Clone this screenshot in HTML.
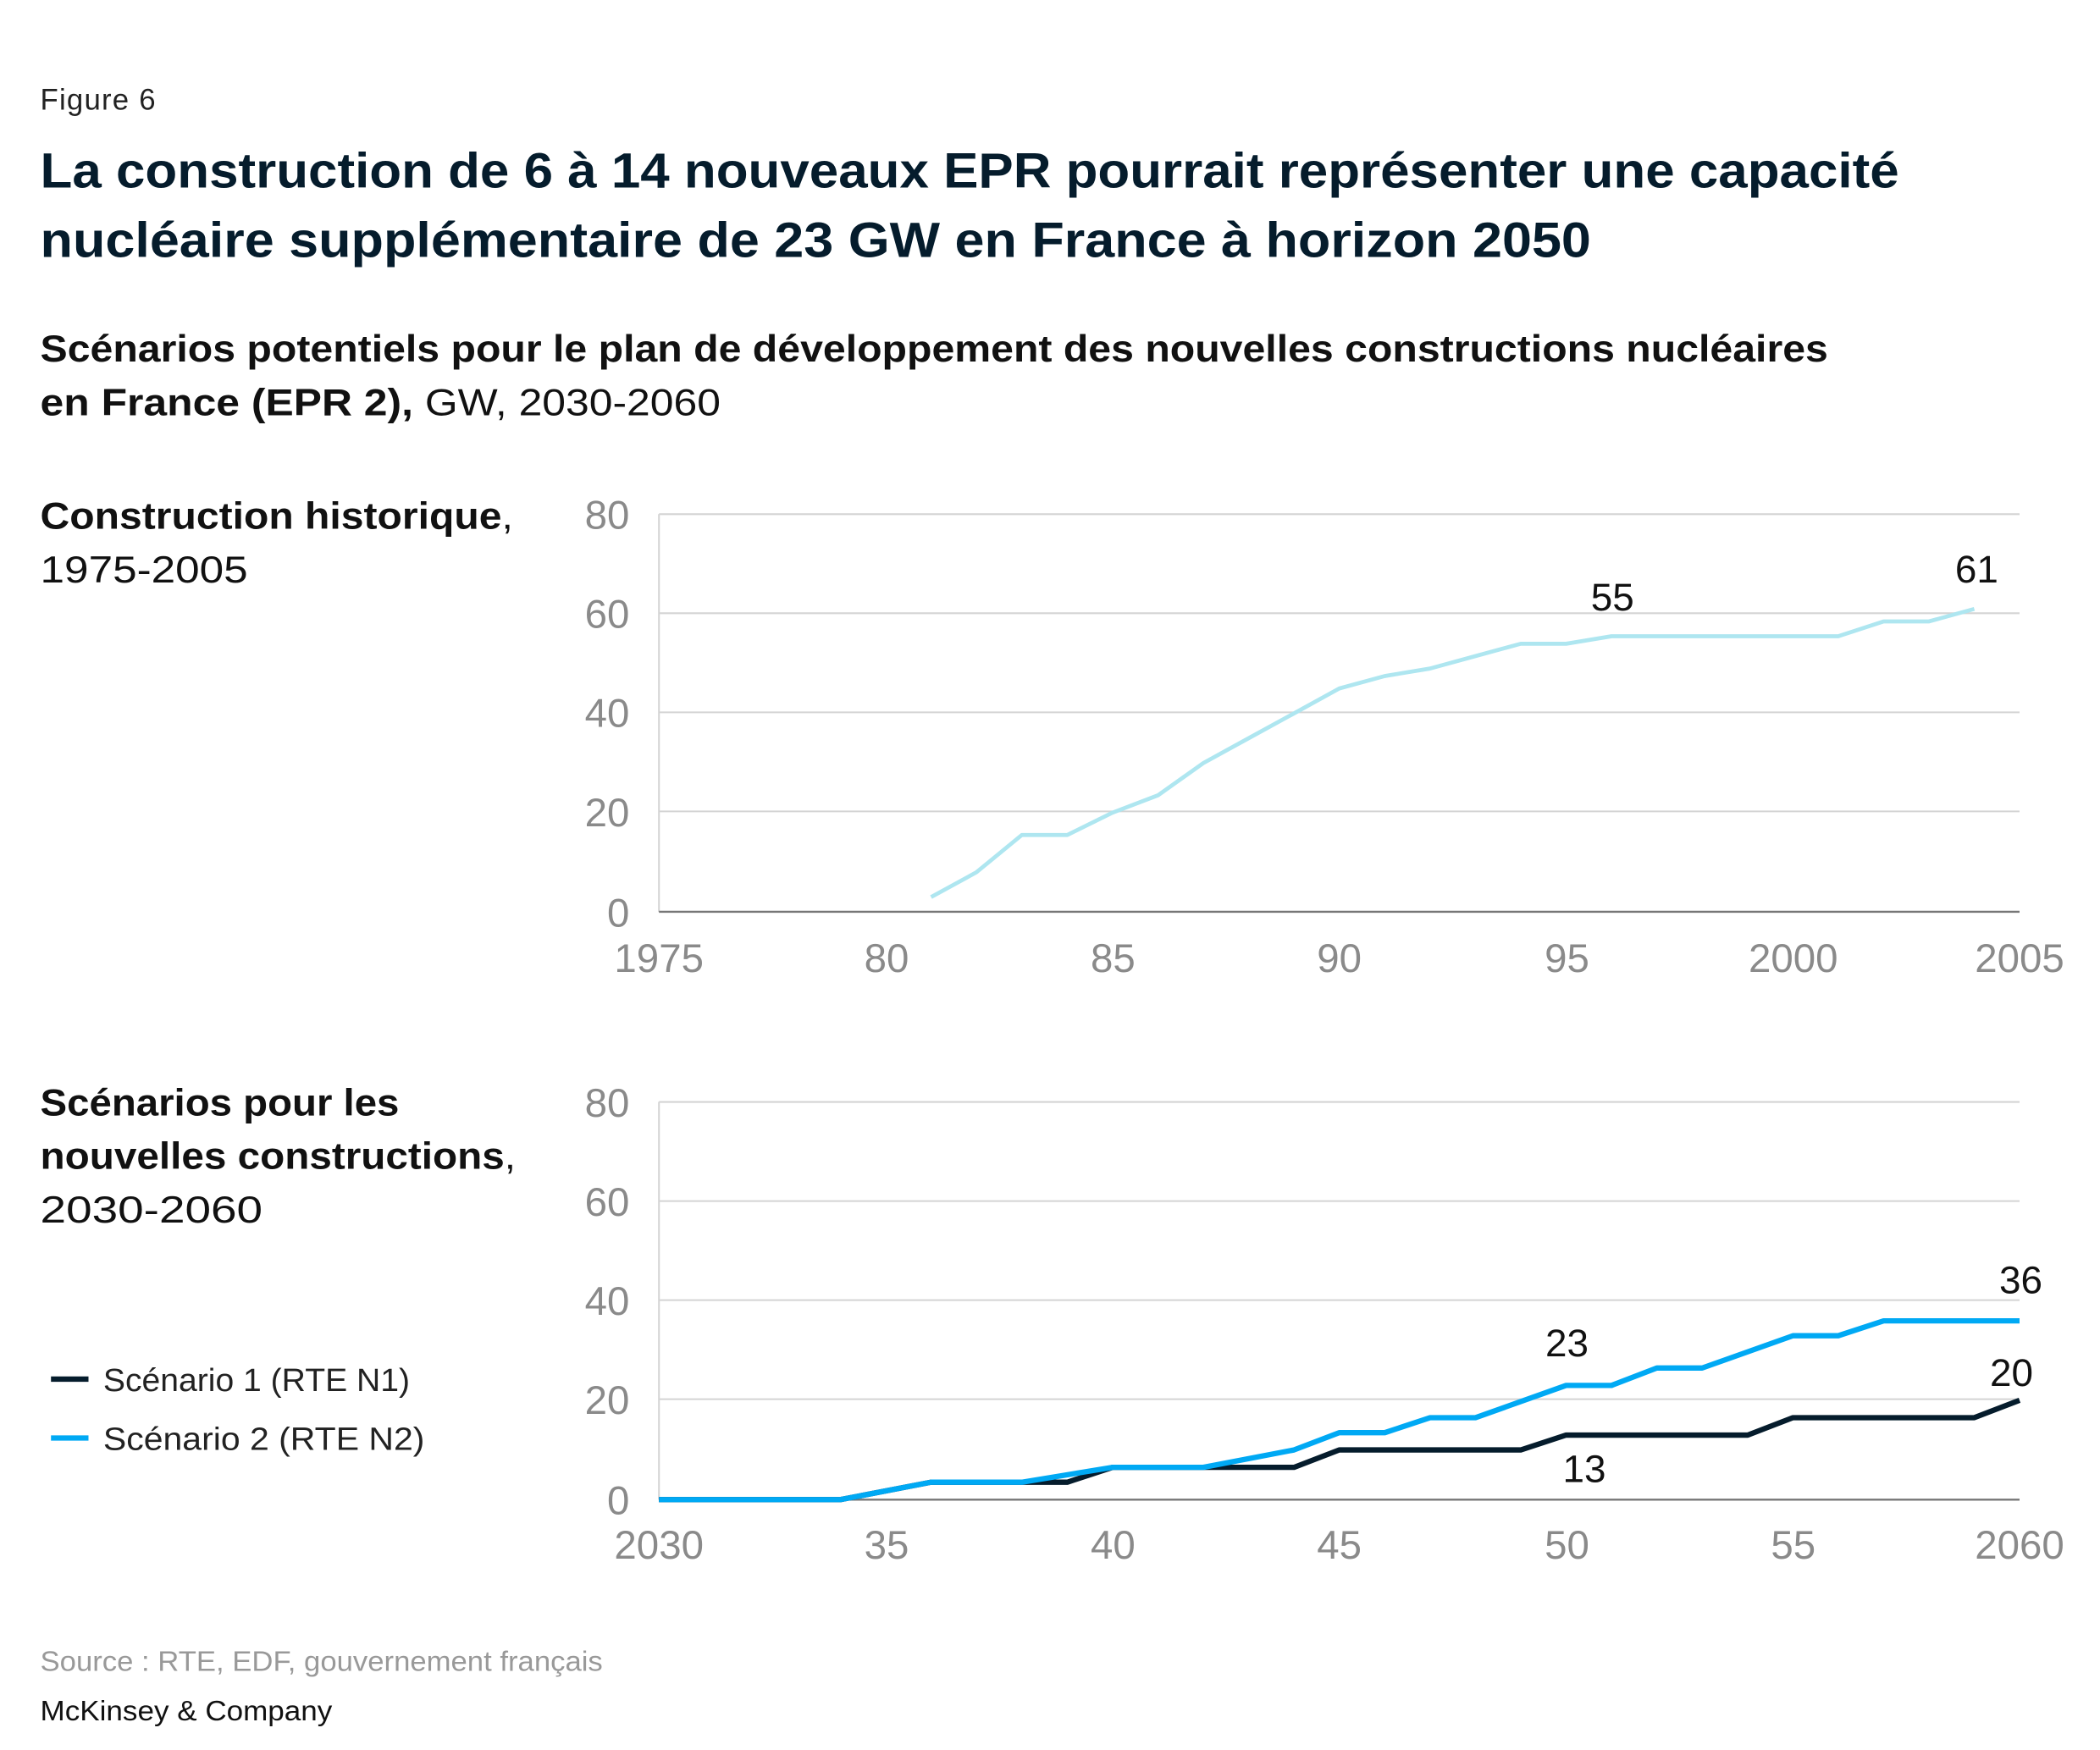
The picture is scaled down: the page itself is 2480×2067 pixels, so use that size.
<!DOCTYPE html>
<html><head><meta charset="utf-8"><style>html,body{margin:0;padding:0;background:#fff}svg{display:block}</style></head><body>
<svg width="2480" height="2067" viewBox="0 0 1568 1307" xmlns="http://www.w3.org/2000/svg" font-family="Liberation Sans, sans-serif">
<rect width="1568" height="1307" fill="#fff"/>
<text x="30" y="82" font-size="22" fill="#222" textLength="86">Figure 6</text>
<text x="30" y="140" font-size="37" font-weight="bold" fill="#051c2c" textLength="1388" lengthAdjust="spacingAndGlyphs">La construction de 6 à 14 nouveaux EPR pourrait représenter une capacité</text>
<text x="30" y="192" font-size="37" font-weight="bold" fill="#051c2c" textLength="1158" lengthAdjust="spacingAndGlyphs">nucléaire supplémentaire de 23 GW en France à horizon 2050</text>
<text x="30" y="270" font-size="28" font-weight="bold" fill="#111" textLength="1335" lengthAdjust="spacingAndGlyphs">Scénarios potentiels pour le plan de développement des nouvelles constructions nucléaires</text>
<text x="30" y="310" font-size="28" fill="#111" textLength="508" lengthAdjust="spacingAndGlyphs"><tspan font-weight="bold">en France (EPR 2),</tspan> GW, 2030-2060</text>

<text x="30" y="395" font-size="28" font-weight="bold" fill="#111" textLength="353" lengthAdjust="spacingAndGlyphs">Construction historique<tspan font-weight="normal">,</tspan></text>
<text x="30" y="435" font-size="28" fill="#111" textLength="155" lengthAdjust="spacingAndGlyphs">1975-2005</text>

<g stroke="#d4d4d4" stroke-width="1.3">
<line x1="492" y1="384" x2="1508" y2="384"/><line x1="492" y1="458" x2="1508" y2="458"/><line x1="492" y1="532" x2="1508" y2="532"/><line x1="492" y1="606" x2="1508" y2="606"/>
<line x1="492" y1="384" x2="492" y2="681"/>
</g>
<line x1="492" y1="681" x2="1508" y2="681" stroke="#777" stroke-width="1.5"/>
<g font-size="30" fill="#8a8a8a" text-anchor="end">
<text x="470" y="395">80</text><text x="470" y="469">60</text><text x="470" y="543">40</text><text x="470" y="617">20</text><text x="470" y="692">0</text>
</g>
<g font-size="30" fill="#8a8a8a" text-anchor="middle">
<text x="492" y="726">1975</text><text x="662" y="726">80</text><text x="831" y="726">85</text><text x="1000" y="726">90</text><text x="1170" y="726">95</text><text x="1339" y="726">2000</text><text x="1508" y="726">2005</text>
</g>
<polyline fill="none" stroke="#aee6f0" stroke-width="3" stroke-linejoin="round" points="695.2,670 729,651.5 763,623.6 796.9,623.6 830.8,606.9 864.6,594 898.5,569.9 932.4,551.3 966.2,532.8 1000,514.2 1034,504.9 1067.8,499.3 1101.7,490 1135.5,480.8 1169.4,480.8 1203.3,475.2 1372.6,475.2 1406.5,464.1 1440.4,464.1 1474.2,454.8"/>
<text x="1204" y="456" font-size="29" fill="#111" text-anchor="middle">55</text>
<text x="1476" y="435" font-size="29" fill="#111" text-anchor="middle">61</text>

<text x="30" y="833" font-size="28" font-weight="bold" fill="#111" textLength="268" lengthAdjust="spacingAndGlyphs">Scénarios pour les</text>
<text x="30" y="873" font-size="28" font-weight="bold" fill="#111" textLength="355" lengthAdjust="spacingAndGlyphs">nouvelles constructions<tspan font-weight="normal">,</tspan></text>
<text x="30" y="913" font-size="28" fill="#111" textLength="166" lengthAdjust="spacingAndGlyphs">2030-2060</text>

<g stroke="#d4d4d4" stroke-width="1.3">
<line x1="492" y1="823" x2="1508" y2="823"/><line x1="492" y1="897" x2="1508" y2="897"/><line x1="492" y1="971" x2="1508" y2="971"/><line x1="492" y1="1045" x2="1508" y2="1045"/>
<line x1="492" y1="823" x2="492" y2="1120"/>
</g>
<line x1="492" y1="1120" x2="1508" y2="1120" stroke="#777" stroke-width="1.5"/>
<g font-size="30" fill="#8a8a8a" text-anchor="end">
<text x="470" y="834">80</text><text x="470" y="908">60</text><text x="470" y="982">40</text><text x="470" y="1056">20</text><text x="470" y="1131">0</text>
</g>
<g font-size="30" fill="#8a8a8a" text-anchor="middle">
<text x="492" y="1164">2030</text><text x="662" y="1164">35</text><text x="831" y="1164">40</text><text x="1000" y="1164">45</text><text x="1170" y="1164">50</text><text x="1339" y="1164">55</text><text x="1508" y="1164">2060</text>
</g>
<polyline fill="none" stroke="#051c2c" stroke-width="4" stroke-linejoin="round" points="492,1120 627.5,1120 695.2,1107 763,1107 796.9,1107 830.8,1095.9 966.2,1095.9 1000,1082.9 1135.5,1082.9 1169.4,1071.8 1305,1071.8 1338.8,1058.8 1474.2,1058.8 1508,1045.8"/>
<polyline fill="none" stroke="#00a9f4" stroke-width="4" stroke-linejoin="round" points="492,1120 627.5,1120 695.2,1107 763,1107 830.8,1095.9 898.5,1095.9 966.2,1082.9 1000,1070 1034,1070 1067.8,1058.8 1101.7,1058.8 1169.4,1034.7 1203.3,1034.7 1237.1,1021.7 1271,1021.7 1338.8,997.6 1372.6,997.6 1406.5,986.5 1508,986.5"/>
<text x="1509" y="966" font-size="29" fill="#111" text-anchor="middle">36</text>
<text x="1170" y="1013" font-size="29" fill="#111" text-anchor="middle">23</text>
<text x="1502" y="1035" font-size="29" fill="#111" text-anchor="middle">20</text>
<text x="1183" y="1107" font-size="29" fill="#111" text-anchor="middle">13</text>

<line x1="38" y1="1030" x2="66" y2="1030" stroke="#051c2c" stroke-width="4"/>
<text x="77" y="1039" font-size="24" fill="#222" textLength="229" lengthAdjust="spacingAndGlyphs">Scénario 1 (RTE N1)</text>
<line x1="38" y1="1074" x2="66" y2="1074" stroke="#00a9f4" stroke-width="4"/>
<text x="77" y="1083" font-size="24" fill="#222" textLength="240" lengthAdjust="spacingAndGlyphs">Scénario 2 (RTE N2)</text>

<text x="30" y="1248" font-size="21" fill="#999" textLength="420" lengthAdjust="spacingAndGlyphs">Source : RTE, EDF, gouvernement français</text>
<text x="30" y="1285" font-size="21" fill="#111" textLength="218" lengthAdjust="spacingAndGlyphs">McKinsey &amp; Company</text>
</svg>
</body></html>
